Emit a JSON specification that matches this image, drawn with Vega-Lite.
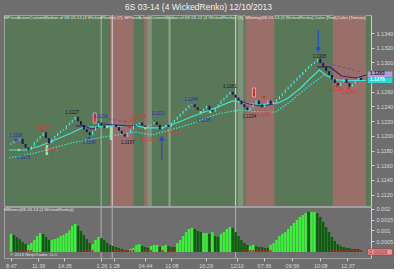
{
"$schema": "https://vega.github.io/schema/vega-lite/v6.json",
"background": "#6e6e6e",
"padding": {"left": 3, "top": 2, "right": 0, "bottom": 0},
"title": {"text": "6S 03-14 (4 WickedRenko)  12/10/2013", "color": "#f2f2f2", "fontSize": 8.5, "fontWeight": "normal", "font": "Liberation Sans", "offset": 3, "anchor": "middle"},
"spacing": 1,
"bounds": "flush",
"resolve": {"scale": {"color": "independent", "shape": "independent"}},
"config": {"font": "Liberation Sans", "view": {"stroke": "#a0a0a0"}, "axis": {"tickCount": 50, "labelOverlap": false, "labelSeparation": 0, "labelBound": false, "labelFontSize": 5.5, "labelColor": "#dadada", "tickColor": "#cfcfcf", "tickSize": 3, "domainColor": "#cfcfcf", "labelPadding": 2, "grid": false, "title": null}},
"datasets": {
"bars": [
{"i":0,"o":1.1188,"c":1.1190,"m":0.00084,"g":"u","r":0},
{"i":1,"o":1.1190,"c":1.1193,"m":0.00079,"g":"d","r":0},
{"i":2,"o":1.1193,"c":1.1194,"m":0.0007,"g":"d","r":0},
{"i":3,"o":1.1194,"c":1.1196,"m":0.0006,"g":"d","r":1},
{"i":4,"o":1.1196,"c":1.1189,"m":0.00047,"g":"d","r":1},
{"i":5,"o":1.1189,"c":1.1184,"m":0.00037,"g":"d","r":1},
{"i":6,"o":1.1184,"c":1.1181,"m":0.00033,"g":"u","r":1},
{"i":7,"o":1.1181,"c":1.1186,"m":0.00042,"g":"u","r":1},
{"i":8,"o":1.1186,"c":1.1192,"m":0.00056,"g":"u","r":0},
{"i":9,"o":1.1192,"c":1.1196,"m":0.00074,"g":"u","r":0},
{"i":10,"o":1.1196,"c":1.1200,"m":0.00088,"g":"u","r":0},
{"i":11,"o":1.1200,"c":1.1205,"m":0.00084,"g":"d","r":0},
{"i":12,"o":1.1205,"c":1.1197,"m":0.0007,"g":"d","r":0},
{"i":13,"o":1.1197,"c":1.1190,"m":0.00056,"g":"d","r":0},
{"i":14,"o":1.1190,"c":1.1196,"m":0.00056,"g":"u","r":0},
{"i":15,"o":1.1196,"c":1.1200,"m":0.0006,"g":"u","r":0},
{"i":16,"o":1.1200,"c":1.1204,"m":0.00065,"g":"u","r":0},
{"i":17,"o":1.1204,"c":1.1207,"m":0.00074,"g":"u","r":0},
{"i":18,"o":1.1207,"c":1.1209,"m":0.00079,"g":"u","r":0},
{"i":19,"o":1.1209,"c":1.1214,"m":0.00088,"g":"u","r":0},
{"i":20,"o":1.1214,"c":1.1218,"m":0.001,"g":"u","r":0},
{"i":21,"o":1.1218,"c":1.1222,"m":0.00121,"g":"u","r":0},
{"i":22,"o":1.1222,"c":1.1226,"m":0.0013,"g":"u","r":0},
{"i":23,"o":1.1226,"c":1.1220,"m":0.00121,"g":"d","r":0},
{"i":24,"o":1.1220,"c":1.1215,"m":0.00098,"g":"d","r":0},
{"i":25,"o":1.1215,"c":1.1209,"m":0.00079,"g":"d","r":1},
{"i":26,"o":1.1209,"c":1.1205,"m":0.0006,"g":"d","r":1},
{"i":27,"o":1.1205,"c":1.1201,"m":0.00042,"g":"d","r":1},
{"i":28,"o":1.1201,"c":1.1207,"m":0.00037,"g":"u","r":1},
{"i":29,"o":1.1207,"c":1.1212,"m":0.00056,"g":"u","r":0},
{"i":30,"o":1.1212,"c":1.1218,"m":0.0007,"g":"u","r":0},
{"i":31,"o":1.1218,"c":1.1214,"m":0.00065,"g":"d","r":0},
{"i":32,"o":1.1214,"c":1.1211,"m":0.00056,"g":"d","r":0},
{"i":33,"o":1.1211,"c":1.1212,"m":0.00042,"g":"d","r":0},
{"i":34,"o":1.1212,"c":1.1214,"m":0.00033,"g":"d","r":0},
{"i":35,"o":1.1214,"c":1.1215,"m":0.00028,"g":"d","r":1},
{"i":36,"o":1.1215,"c":1.1212,"m":0.00023,"g":"d","r":1},
{"i":37,"o":1.1212,"c":1.1207,"m":0.00019,"g":"d","r":1},
{"i":38,"o":1.1207,"c":1.1203,"m":0.00014,"g":"d","r":1},
{"i":39,"o":1.1203,"c":1.1199,"m":0.00009,"g":"d","r":1},
{"i":40,"o":1.1199,"c":1.1204,"m":0.00009,"g":"d","r":1},
{"i":41,"o":1.1204,"c":1.1209,"m":0.00014,"g":"u","r":1},
{"i":42,"o":1.1209,"c":1.1214,"m":0.00019,"g":"u","r":1},
{"i":43,"o":1.1214,"c":1.1216,"m":0.00033,"g":"u","r":0},
{"i":44,"o":1.1216,"c":1.1218,"m":0.00037,"g":"u","r":0},
{"i":45,"o":1.1218,"c":1.1214,"m":0.00028,"g":"d","r":0},
{"i":46,"o":1.1214,"c":1.1211,"m":0.00023,"g":"d","r":1},
{"i":47,"o":1.1211,"c":1.1214,"m":0.00019,"g":"d","r":1},
{"i":48,"o":1.1214,"c":1.1216,"m":0.00028,"g":"u","r":1},
{"i":49,"o":1.1216,"c":1.1219,"m":0.00033,"g":"u","r":0},
{"i":50,"o":1.1219,"c":1.1215,"m":0.00033,"g":"u","r":0},
{"i":51,"o":1.1215,"c":1.1209,"m":0.00023,"g":"d","r":0},
{"i":52,"o":1.1209,"c":1.1212,"m":0.00028,"g":"u","r":1},
{"i":53,"o":1.1212,"c":1.1215,"m":0.00033,"g":"u","r":0},
{"i":54,"o":1.1215,"c":1.1212,"m":0.00028,"g":"d","r":1},
{"i":55,"o":1.1212,"c":1.1218,"m":0.00023,"g":"d","r":1},
{"i":56,"o":1.1218,"c":1.1222,"m":0.00023,"g":"d","r":1},
{"i":57,"o":1.1222,"c":1.1226,"m":0.00042,"g":"u","r":0},
{"i":58,"o":1.1226,"c":1.1230,"m":0.00056,"g":"u","r":0},
{"i":59,"o":1.1230,"c":1.1234,"m":0.00074,"g":"u","r":0},
{"i":60,"o":1.1234,"c":1.1238,"m":0.00093,"g":"u","r":0},
{"i":61,"o":1.1238,"c":1.1242,"m":0.00107,"g":"u","r":0},
{"i":62,"o":1.1242,"c":1.1243,"m":0.00112,"g":"u","r":0},
{"i":63,"o":1.1243,"c":1.1239,"m":0.00107,"g":"d","r":0},
{"i":64,"o":1.1239,"c":1.1235,"m":0.00098,"g":"d","r":0},
{"i":65,"o":1.1235,"c":1.1233,"m":0.00093,"g":"d","r":0},
{"i":66,"o":1.1233,"c":1.1237,"m":0.00088,"g":"u","r":0},
{"i":67,"o":1.1237,"c":1.1241,"m":0.00088,"g":"u","r":0},
{"i":68,"o":1.1241,"c":1.1235,"m":0.00084,"g":"d","r":0},
{"i":69,"o":1.1235,"c":1.1233,"m":0.00093,"g":"u","r":0},
{"i":70,"o":1.1233,"c":1.1238,"m":0.00074,"g":"d","r":0},
{"i":71,"o":1.1238,"c":1.1243,"m":0.0007,"g":"d","r":0},
{"i":72,"o":1.1243,"c":1.1248,"m":0.00084,"g":"u","r":0},
{"i":73,"o":1.1248,"c":1.1252,"m":0.00093,"g":"u","r":0},
{"i":74,"o":1.1252,"c":1.1256,"m":0.00107,"g":"u","r":0},
{"i":75,"o":1.1256,"c":1.1260,"m":0.00116,"g":"u","r":0},
{"i":76,"o":1.1260,"c":1.1256,"m":0.00112,"g":"d","r":0},
{"i":77,"o":1.1256,"c":1.1252,"m":0.00093,"g":"d","r":0},
{"i":78,"o":1.1252,"c":1.1248,"m":0.00074,"g":"d","r":0},
{"i":79,"o":1.1248,"c":1.1243,"m":0.00056,"g":"d","r":0},
{"i":80,"o":1.1243,"c":1.1239,"m":0.00042,"g":"d","r":1},
{"i":81,"o":1.1239,"c":1.1235,"m":0.00033,"g":"d","r":1},
{"i":82,"o":1.1235,"c":1.1239,"m":0.00028,"g":"u","r":1},
{"i":83,"o":1.1239,"c":1.1243,"m":0.00033,"g":"u","r":1},
{"i":84,"o":1.1243,"c":1.1248,"m":0.00028,"g":"d","r":1},
{"i":85,"o":1.1248,"c":1.1243,"m":0.00023,"g":"d","r":1},
{"i":86,"o":1.1243,"c":1.1239,"m":0.00023,"g":"d","r":1},
{"i":87,"o":1.1239,"c":1.1243,"m":0.00019,"g":"d","r":1},
{"i":88,"o":1.1243,"c":1.1248,"m":0.00019,"g":"d","r":1},
{"i":89,"o":1.1248,"c":1.1243,"m":0.00033,"g":"u","r":1},
{"i":90,"o":1.1243,"c":1.1246,"m":0.00042,"g":"u","r":0},
{"i":91,"o":1.1246,"c":1.1250,"m":0.00056,"g":"u","r":0},
{"i":92,"o":1.1250,"c":1.1254,"m":0.00074,"g":"u","r":0},
{"i":93,"o":1.1254,"c":1.1258,"m":0.00084,"g":"u","r":0},
{"i":94,"o":1.1258,"c":1.1263,"m":0.00093,"g":"u","r":0},
{"i":95,"o":1.1263,"c":1.1267,"m":0.00107,"g":"u","r":0},
{"i":96,"o":1.1267,"c":1.1271,"m":0.00121,"g":"u","r":0},
{"i":97,"o":1.1271,"c":1.1275,"m":0.00135,"g":"u","r":0},
{"i":98,"o":1.1275,"c":1.1279,"m":0.00149,"g":"u","r":0},
{"i":99,"o":1.1279,"c":1.1283,"m":0.00163,"g":"u","r":0},
{"i":100,"o":1.1283,"c":1.1287,"m":0.00172,"g":"u","r":0},
{"i":101,"o":1.1287,"c":1.1291,"m":0.00181,"g":"u","r":0},
{"i":102,"o":1.1291,"c":1.1295,"m":0.00186,"g":"d","r":0},
{"i":103,"o":1.1295,"c":1.1298,"m":0.00186,"g":"u","r":0},
{"i":104,"o":1.1298,"c":1.1301,"m":0.00186,"g":"u","r":0},
{"i":105,"o":1.1301,"c":1.1305,"m":0.00181,"g":"d","r":0},
{"i":106,"o":1.1305,"c":1.1299,"m":0.00163,"g":"d","r":0},
{"i":107,"o":1.1299,"c":1.1294,"m":0.0014,"g":"d","r":0},
{"i":108,"o":1.1294,"c":1.1288,"m":0.00116,"g":"d","r":0},
{"i":109,"o":1.1288,"c":1.1283,"m":0.00093,"g":"d","r":0},
{"i":110,"o":1.1283,"c":1.1277,"m":0.0007,"g":"d","r":1},
{"i":111,"o":1.1277,"c":1.1272,"m":0.00051,"g":"d","r":1},
{"i":112,"o":1.1272,"c":1.1268,"m":0.00037,"g":"d","r":1},
{"i":113,"o":1.1268,"c":1.1273,"m":0.00028,"g":"d","r":1},
{"i":114,"o":1.1273,"c":1.1277,"m":0.00023,"g":"d","r":1},
{"i":115,"o":1.1277,"c":1.1272,"m":0.00019,"g":"d","r":1},
{"i":116,"o":1.1272,"c":1.1267,"m":0.00019,"g":"d","r":1},
{"i":117,"o":1.1267,"c":1.1271,"m":0.00014,"g":"d","r":1},
{"i":118,"o":1.1271,"c":1.1275,"m":0.00014,"g":"d","r":1},
{"i":119,"o":1.1275,"c":1.1279,"m":0.00014,"g":"d","r":1},
{"i":120,"o":1.1279,"c":1.1276,"m":0.00009,"g":"d","r":1}
],
"bands": [
{"x1":30.7,"x2":31.2,"k":"s"},
{"x1":34,"x2":42,"k":"r"},
{"x1":45.7,"x2":46.7,"k":"r"},
{"x1":46.7,"x2":48.3,"k":"l"},
{"x1":54,"x2":54.7,"k":"s"},
{"x1":77.7,"x2":79.7,"k":"l"},
{"x1":80.3,"x2":90.3,"k":"r"},
{"x1":110.3,"x2":121.67,"k":"r"}
],
"ma": [
{"i":-0.67,"p":1.11808},{"i":5,"p":1.11808},{"i":10,"p":1.11863},{"i":15,"p":1.11944},{"i":20.7,"p":1.1204},{"i":25,"p":1.12121},{"i":30,"p":1.12121},{"i":35,"p":1.12135},{"i":42.7,"p":1.12135},{"i":46.7,"p":1.12108},{"i":51.7,"p":1.12108},{"i":56.7,"p":1.12176},{"i":61.7,"p":1.12257},{"i":68.3,"p":1.12352},{"i":76,"p":1.12475},{"i":80,"p":1.12448},{"i":85,"p":1.12421},{"i":91.7,"p":1.12448},{"i":95,"p":1.12516},{"i":99.3,"p":1.12652},{"i":102.7,"p":1.12788},{"i":105.7,"p":1.12897},{"i":108.3,"p":1.12815},{"i":111.7,"p":1.12761},{"i":115,"p":1.12754},{"i":121.67,"p":1.12754}
],
"lo": [
{"i":-0.67,"p":1.11699},{"i":8.3,"p":1.11767},{"i":20.7,"p":1.11904},{"i":31.7,"p":1.11985},{"i":42.7,"p":1.12053},{"i":48.3,"p":1.12012},{"i":53.3,"p":1.12067},{"i":61.7,"p":1.12162},{"i":70.7,"p":1.12298},{"i":78.3,"p":1.12352},{"i":85.7,"p":1.12325},{"i":90.7,"p":1.12325},{"i":96,"p":1.12475},{"i":101.7,"p":1.12665},{"i":107.3,"p":1.12829}
],
"pur": [
{"s":"a","i":22.3,"p":1.12135},{"s":"a","i":25,"p":1.12135},{"s":"a","i":27.7,"p":1.12094},{"s":"a","i":30,"p":1.12121},
{"s":"b","i":31.7,"p":1.12162},{"s":"b","i":35.7,"p":1.12148},{"s":"b","i":40,"p":1.12135},{"s":"b","i":43.3,"p":1.12135},
{"s":"c","i":78.3,"p":1.12475},{"s":"c","i":81.7,"p":1.12434},{"s":"c","i":85.7,"p":1.12407},{"s":"c","i":90,"p":1.12434},
{"s":"d","i":105,"p":1.12938},{"s":"d","i":109.3,"p":1.12938},{"s":"d","i":113.3,"p":1.12815},{"s":"d","i":118.3,"p":1.12788},{"s":"d","i":121.67,"p":1.12829}
],
"purd": [
{"s":"e","i":33.3,"p":1.1223},{"s":"e","i":40,"p":1.12189},
{"s":"f","i":107,"p":1.13006},{"s":"f","i":120,"p":1.12869}
],
"labels": [
{"i":1.7,"p":1.11999,"t":"1.1198","k":"b"},
{"i":4.3,"p":1.11699,"t":"1.1179","k":"b"},
{"i":10.7,"p":1.12094,"t":"1.1207","k":"r"},
{"i":13.3,"p":1.11795,"t":"1.1188","k":"r"},
{"i":21,"p":1.12312,"t":"1.1227","k":"n"},
{"i":26.7,"p":1.11904,"t":"1.1199","k":"b"},
{"i":30.7,"p":1.12257,"t":"1.1219","k":"b"},
{"i":40,"p":1.11904,"t":"1.1197","k":"n"},
{"i":41.7,"p":1.12203,"t":"1.1215","k":"r"},
{"i":44,"p":1.12257,"t":"1.1213","k":"r"},
{"i":47,"p":1.11944,"t":"1.1206","k":"r"},
{"i":50.5,"p":1.12298,"t":"1.1221","k":"b"},
{"i":55.3,"p":1.12053,"t":"1.1210","k":"r"},
{"i":61.7,"p":1.12489,"t":"1.1244","k":"b"},
{"i":66,"p":1.12203,"t":"1.1235","k":"b"},
{"i":75,"p":1.12665,"t":"1.1261","k":"n"},
{"i":81.7,"p":1.12257,"t":"1.1234","k":"n"},
{"i":86.7,"p":1.12284,"t":"1.1238","k":"r"},
{"i":105.7,"p":1.13074,"t":"1.1306","k":"n"},
{"i":111.7,"p":1.12625,"t":"1.1268","k":"r"},
{"i":115.7,"p":1.12584,"t":"1.1267","k":"r"}
],
"dots": [
{"i":1.7,"p":1.11944,"k":"b"},{"i":26.7,"p":1.11972,"k":"b"},{"i":30,"p":1.12189,"k":"b"},
{"i":10.7,"p":1.12067,"k":"r"},{"i":40.7,"p":1.12121,"k":"r"},{"i":86.7,"p":1.12529,"k":"r"},{"i":111.7,"p":1.12679,"k":"r"},{"i":115.7,"p":1.12652,"k":"r"},
{"i":2.7,"p":1.11808,"k":"g"},{"i":65,"p":1.12325,"k":"g"},{"i":68.3,"p":1.12325,"k":"g"},{"i":46,"p":1.12108,"k":"g"},{"i":33,"p":1.12121,"k":"g"}
]
},
"vconcat": [
{
"width": 367, "height": 191,
"title": {"text": "MPriceActionCustomMedian of 6S 03-14 (4 WickedRenko) (7), MPriceActionCustomMedian of 6S 03-14 (4 WickedRenko) (3), MSwing(6S 03-14 (4 WickedRenko),Color [Red],Color [Tomato]", "anchor": "start", "fontSize": 4.3, "fontWeight": "normal", "color": "#e6e6e6", "offset": -6},
"view": {"fill": "#587858", "stroke": "#a0a0a0"},
"resolve": {"scale": {"color": "independent", "shape": "independent"}},
"layer": [
{"data": {"name": "bands"}, "mark": {"type": "rect"},
 "encoding": {"x": {"field": "x1", "type": "quantitative", "scale": {"domain": [-0.67, 121.67], "nice": false, "zero": false}, "axis": null}, "x2": {"field": "x2"},
 "color": {"field": "k", "type": "nominal", "scale": {"domain": ["r", "l", "s"], "range": ["#9a6e69", "#7d947b", "#8ea38b"]}, "legend": null}}},
{"data": {"values": [{"i": 34.7}, {"i": 77}]}, "mark": {"type": "rule", "color": "#d8d8d8", "strokeWidth": 1},
 "encoding": {"x": {"field": "i", "type": "quantitative", "scale": {"domain": [-0.67, 121.67], "nice": false, "zero": false}, "axis": null}}},
{"data": {"name": "lo"}, "mark": {"type": "line", "color": "#3ee6d6", "strokeWidth": 1.2, "strokeDash": [1.5, 1.5]},
 "encoding": {"x": {"field": "i", "type": "quantitative", "scale": {"domain": [-0.67, 121.67], "nice": false, "zero": false}, "axis": null},
 "y": {"field": "p", "type": "quantitative", "scale": {"domain": [1.11046, 1.13645], "nice": false, "zero": false}, "axis": {"orient": "right", "tickCount": 50, "values": [1.112, 1.114, 1.116, 1.118, 1.12, 1.122, 1.124, 1.126, 1.13, 1.132, 1.134], "format": ".4f"}}}},
{"data": {"name": "ma"}, "mark": {"type": "line", "color": "#3ee6d6", "strokeWidth": 1.2},
 "encoding": {"x": {"field": "i", "type": "quantitative", "scale": {"domain": [-0.67, 121.67], "nice": false, "zero": false}, "axis": null},
 "y": {"field": "p", "type": "quantitative", "scale": {"domain": [1.11046, 1.13645], "nice": false, "zero": false}}}},
{"data": {"name": "pur"}, "mark": {"type": "line", "color": "#4a1f6e", "strokeWidth": 1.2},
 "encoding": {"x": {"field": "i", "type": "quantitative", "scale": {"domain": [-0.67, 121.67], "nice": false, "zero": false}, "axis": null},
 "y": {"field": "p", "type": "quantitative", "scale": {"domain": [1.11046, 1.13645], "nice": false, "zero": false}},
 "detail": {"field": "s"}}},
{"data": {"name": "purd"}, "mark": {"type": "line", "color": "#7a4a9e", "strokeWidth": 1, "strokeDash": [3, 2]},
 "encoding": {"x": {"field": "i", "type": "quantitative", "scale": {"domain": [-0.67, 121.67], "nice": false, "zero": false}, "axis": null},
 "y": {"field": "p", "type": "quantitative", "scale": {"domain": [1.11046, 1.13645], "nice": false, "zero": false}},
 "detail": {"field": "s"}}},
{"data": {"name": "bars"}, "transform": [{"filter": "datum.c > datum.o"}], "mark": {"type": "rule", "color": "#44e8dc", "strokeWidth": 1.2},
 "encoding": {"x": {"field": "i", "type": "quantitative", "scale": {"domain": [-0.67, 121.67], "nice": false, "zero": false}, "axis": null},
 "y": {"field": "o", "type": "quantitative", "scale": {"domain": [1.11046, 1.13645], "nice": false, "zero": false}}, "y2": {"field": "c"}}},
{"data": {"name": "bars"}, "transform": [{"filter": "datum.c < datum.o"}], "mark": {"type": "rule", "color": "#1b1b4e", "strokeWidth": 2},
 "encoding": {"x": {"field": "i", "type": "quantitative", "scale": {"domain": [-0.67, 121.67], "nice": false, "zero": false}, "axis": null},
 "y": {"field": "o", "type": "quantitative", "scale": {"domain": [1.11046, 1.13645], "nice": false, "zero": false}}, "y2": {"field": "c"}}},
{"data": {"values": [{"i": 12.3, "p": 1.11876, "p2": 1.1174}, {"i": 34.3, "p": 1.12121, "p2": 1.11944}]}, "mark": {"type": "rule", "color": "#9be39b", "strokeWidth": 2.5},
 "encoding": {"x": {"field": "i", "type": "quantitative", "scale": {"domain": [-0.67, 121.67], "nice": false, "zero": false}, "axis": null},
 "y": {"field": "p", "type": "quantitative", "scale": {"domain": [1.11046, 1.13645], "nice": false, "zero": false}}, "y2": {"field": "p2"}}},
{"data": {"values": [{"i": 28.7, "p": 1.12312, "p2": 1.12176}, {"i": 83.3, "p": 1.12652, "p2": 1.12529}]}, "mark": {"type": "bar", "color": "#d42a2a", "width": 3, "stroke": "#f0e0e0", "strokeWidth": 0.6},
 "encoding": {"x": {"field": "i", "type": "quantitative", "scale": {"domain": [-0.67, 121.67], "nice": false, "zero": false}, "axis": null},
 "y": {"field": "p", "type": "quantitative", "scale": {"domain": [1.11046, 1.13645], "nice": false, "zero": false}}, "y2": {"field": "p2"}}},
{"data": {"values": [{"i": 105.3, "p": 1.13441, "p2": 1.1321}, {"i": 51.7, "p": 1.11931, "p2": 1.11672}]}, "mark": {"type": "rule", "color": "#2a3ee6", "strokeWidth": 1},
 "encoding": {"x": {"field": "i", "type": "quantitative", "scale": {"domain": [-0.67, 121.67], "nice": false, "zero": false}, "axis": null},
 "y": {"field": "p", "type": "quantitative", "scale": {"domain": [1.11046, 1.13645], "nice": false, "zero": false}}, "y2": {"field": "p2"}}},
{"data": {"values": [{"i": 105.3, "p": 1.13175, "s": "down"}, {"i": 51.7, "p": 1.11965, "s": "up"}]}, "mark": {"type": "point", "filled": true, "color": "#2a3ee6", "size": 30, "opacity": 1},
 "encoding": {"x": {"field": "i", "type": "quantitative", "scale": {"domain": [-0.67, 121.67], "nice": false, "zero": false}, "axis": null},
 "y": {"field": "p", "type": "quantitative", "scale": {"domain": [1.11046, 1.13645], "nice": false, "zero": false}},
 "shape": {"field": "s", "type": "nominal", "scale": {"domain": ["down", "up"], "range": ["triangle-down", "triangle-up"]}, "legend": null}}},
{"data": {"name": "dots"}, "mark": {"type": "point", "filled": true, "size": 7, "opacity": 1},
 "encoding": {"x": {"field": "i", "type": "quantitative", "scale": {"domain": [-0.67, 121.67], "nice": false, "zero": false}, "axis": null},
 "y": {"field": "p", "type": "quantitative", "scale": {"domain": [1.11046, 1.13645], "nice": false, "zero": false}},
 "color": {"field": "k", "type": "nominal", "scale": {"domain": ["b", "r", "g"], "range": ["#2a3ee6", "#e02828", "#8fe88f"]}, "legend": null}}},
{"data": {"name": "labels"}, "mark": {"type": "text", "fontSize": 4.5, "baseline": "middle", "align": "center"},
 "encoding": {"x": {"field": "i", "type": "quantitative", "scale": {"domain": [-0.67, 121.67], "nice": false, "zero": false}, "axis": null},
 "y": {"field": "p", "type": "quantitative", "scale": {"domain": [1.11046, 1.13645], "nice": false, "zero": false}},
 "text": {"field": "t"},
 "color": {"field": "k", "type": "nominal", "scale": {"domain": ["b", "r", "n"], "range": ["#2830b8", "#e03030", "#141430"]}, "legend": null}}},
{"data": {"values": [{"a": 122.3, "b": 130.7, "p": 1.12876, "p2": 1.12801, "k": "pu"}, {"a": 122.3, "b": 130.7, "p": 1.12795, "p2": 1.1272, "k": "cy"}]}, "mark": {"type": "rect"},
 "encoding": {"x": {"field": "a", "type": "quantitative", "scale": {"domain": [-0.67, 121.67], "nice": false, "zero": false}, "axis": null}, "x2": {"field": "b"},
 "y": {"field": "p", "type": "quantitative", "scale": {"domain": [1.11046, 1.13645], "nice": false, "zero": false}}, "y2": {"field": "p2"},
 "color": {"field": "k", "type": "nominal", "scale": {"domain": ["pu", "cy"], "range": ["#b49ad8", "#22dcd8"]}, "legend": null}}},
{"data": {"values": [{"a": 123, "p": 1.12839, "t": "1.1283", "k": "pu"}, {"a": 123, "p": 1.12757, "t": "1.1276", "k": "cy"}]}, "mark": {"type": "text", "fontSize": 4.8, "align": "left", "baseline": "middle", "fontWeight": "bold"},
 "encoding": {"x": {"field": "a", "type": "quantitative", "scale": {"domain": [-0.67, 121.67], "nice": false, "zero": false}, "axis": null},
 "y": {"field": "p", "type": "quantitative", "scale": {"domain": [1.11046, 1.13645], "nice": false, "zero": false}},
 "text": {"field": "t"},
 "color": {"field": "k", "type": "nominal", "scale": {"domain": ["pu", "cy"], "range": ["#1a1a1a", "#ffffff"]}, "legend": null}}}
]
},
{
"width": 367, "height": 51,
"title": {"text": "MMoms(6S 03-14 (4 WickedRenko))", "anchor": "start", "fontSize": 4.3, "fontWeight": "normal", "color": "#e6e6e6", "offset": -6},
"view": {"fill": "#6e6e6e", "stroke": "#a0a0a0"},
"resolve": {"scale": {"color": "independent"}},
"layer": [
{"data": {"values": [{"i": 30.9}, {"i": 34.7}, {"i": 77}]}, "mark": {"type": "rule", "color": "#b0b0b0", "strokeWidth": 1},
 "encoding": {"x": {"field": "i", "type": "quantitative", "scale": {"domain": [-0.67, 121.67], "nice": false, "zero": false},
 "axis": {"orient": "bottom", "tickCount": 50, "values": [0, 9.3, 18.3, 31, 35.3, 46, 55, 66.7, 77.3, 86.7, 96.3, 106, 115.3], "labelExpr": "['8:47','11:36','14:35','1:26','1:28','04:44','11:08','16:29','12/10','07:36','09:56','10:08','12:37'][indexof([0,9.3,18.3,31,35.3,46,55,66.7,77.3,86.7,96.3,106,115.3], datum.value)]", "domain": false, "labelFlush": false}}}},
{"data": {"name": "bars"}, "mark": {"type": "bar", "width": 2.4},
 "encoding": {"x": {"field": "i", "type": "quantitative", "scale": {"domain": [-0.67, 121.67], "nice": false, "zero": false}},
 "y": {"field": "m", "type": "quantitative", "scale": {"domain": [-0.00028, 0.00209], "nice": false, "zero": false},
 "axis": {"orient": "right", "tickCount": 50, "values": [0.0005, 0.001, 0.0015, 0.002], "format": "~g"}},
 "y2": {"datum": 0},
 "color": {"field": "g", "type": "nominal", "scale": {"domain": ["u", "d"], "range": ["#36f536", "#0b5e0b"]}, "legend": null}}},
{"mark": {"type": "rule", "color": "#36e036", "strokeWidth": 0.8, "strokeDash": [2, 1.5]},
 "encoding": {"y": {"datum": 0.00033, "type": "quantitative", "scale": {"domain": [-0.00028, 0.00209], "nice": false, "zero": false}}}},
{"data": {"name": "bars"}, "transform": [{"filter": "datum.r == 1"}], "mark": {"type": "point", "filled": true, "color": "#c01818", "size": 4, "opacity": 1},
 "encoding": {"x": {"field": "i", "type": "quantitative", "scale": {"domain": [-0.67, 121.67], "nice": false, "zero": false}},
 "y": {"datum": 0.00004, "type": "quantitative", "scale": {"domain": [-0.00028, 0.00209], "nice": false, "zero": false}}}},
{"data": {"values": [{"i": -0.3, "v": -0.00013, "t": "© 2013 NinjaTrader, LLC"}]}, "mark": {"type": "text", "fontSize": 4.3, "align": "left", "baseline": "middle", "color": "#e0e0e0"},
 "encoding": {"x": {"field": "i", "type": "quantitative", "scale": {"domain": [-0.67, 121.67], "nice": false, "zero": false}},
 "y": {"field": "v", "type": "quantitative", "scale": {"domain": [-0.00028, 0.00209], "nice": false, "zero": false}},
 "text": {"field": "t"}}},
{"data": {"values": [{"a": 122.3, "b": 130.7, "v": 0.00014, "v2": -0.00014}]}, "mark": {"type": "rect", "color": "#e4a0a0", "stroke": "#c02020", "strokeWidth": 0.6},
 "encoding": {"x": {"field": "a", "type": "quantitative", "scale": {"domain": [-0.67, 121.67], "nice": false, "zero": false}}, "x2": {"field": "b"},
 "y": {"field": "v", "type": "quantitative", "scale": {"domain": [-0.00028, 0.00209], "nice": false, "zero": false}}, "y2": {"field": "v2"}}},
{"data": {"values": [{"a": 122.8, "v": 0, "t": "0.00009"}]}, "mark": {"type": "text", "fontSize": 5, "align": "left", "baseline": "middle", "color": "#a01010"},
 "encoding": {"x": {"field": "a", "type": "quantitative", "scale": {"domain": [-0.67, 121.67], "nice": false, "zero": false}},
 "y": {"field": "v", "type": "quantitative", "scale": {"domain": [-0.00028, 0.00209], "nice": false, "zero": false}},
 "text": {"field": "t"}}}
]
}
]
}
